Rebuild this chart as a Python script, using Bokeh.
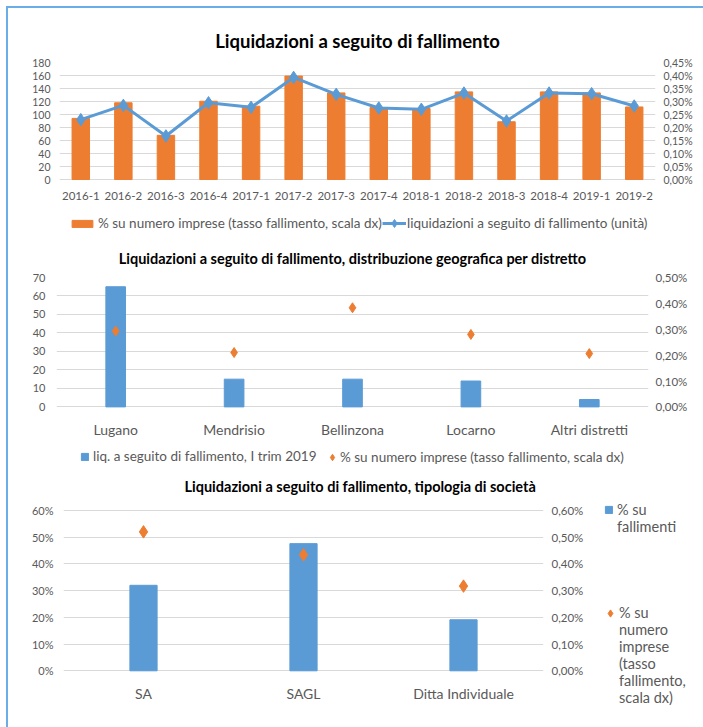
import math
from bokeh.plotting import figure
from bokeh.models import (FactorRange, Range1d, LinearAxis, FixedTicker,
                          CustomJSTickFormatter, Legend, LegendItem, Div)
from bokeh.layouts import row
from bokeh.embed import file_html
from bokeh.resources import INLINE

# ---------------- data ----------------
quarters = ["2016-1", "2016-2", "2016-3", "2016-4", "2017-1", "2017-2", "2017-3",
            "2017-4", "2018-1", "2018-2", "2018-3", "2018-4", "2019-1", "2019-2"]
liquidazioni_unita = [92, 114, 67, 118, 111, 157, 131, 110, 108, 133, 90, 133, 132, 113]
tasso_trimestre_pct = [0.235, 0.295, 0.170, 0.301, 0.282, 0.398, 0.333, 0.277,
                       0.273, 0.337, 0.222, 0.337, 0.333, 0.279]
p1_left_ticks = [0, 20, 40, 60, 80, 100, 120, 140, 160, 180]
p1_right_ticks = [0.0, 0.05, 0.10, 0.15, 0.20, 0.25, 0.30, 0.35, 0.40, 0.45]

districts = ["Lugano", "Mendrisio", "Bellinzona", "Locarno", "Altri distretti"]
liq_trim1_2019 = [65, 15, 15, 14, 4]
tasso_distretto_pct = [0.293, 0.210, 0.383, 0.280, 0.206]
p2_left_ticks = [0, 10, 20, 30, 40, 50, 60, 70]
p2_right_ticks = [0.0, 0.1, 0.2, 0.3, 0.4, 0.5]

tipologie = ["SA", "SAGL", "Ditta Individuale"]
quota_fallimenti_pct = [32.0, 47.6, 19.1]
tasso_tipologia_pct = [0.520, 0.434, 0.317]
p3_left_ticks = [0, 10, 20, 30, 40, 50, 60]
p3_right_ticks = [0.0, 0.1, 0.2, 0.3, 0.4, 0.5, 0.6]

# wrapped legend labels of panel 3 (leading blank lines keep the key on the first line)
p3_key_bar_lines = ["% su", "fallimenti"]
p3_key_pt_lines = ["% su", "numero", "imprese", "(tasso", "fallimento,", "scala dx)"]

# ---------------- style ----------------
FONT = "Lato"
GRAY = "#595959"
ORANGE = "#ED7D31"
BLUE = "#5B9BD5"
GRID = "#D9D9D9"
FRAME = "#6AAEE8"
W = 703
LEG_FS = "13.5px"

pct2 = CustomJSTickFormatter(code="return tick.toFixed(2).replace('.', ',') + '%';")
pct0 = CustomJSTickFormatter(code="return tick.toFixed(0) + '%';")


def style_axis(ax, size, standoff):
    ax.axis_line_color = None
    ax.major_tick_line_color = None
    ax.minor_tick_line_color = None
    ax.major_tick_out = 0
    ax.major_tick_in = 0
    ax.major_label_text_font = FONT
    ax.major_label_text_font_size = size
    ax.major_label_text_color = GRAY
    ax.major_label_standoff = standoff


def make_fig(factors, width, height, left, right, top, bottom, y_range, y2_range,
             title, title_size, title_standoff):
    p = figure(x_range=FactorRange(*factors), y_range=Range1d(*y_range),
               width=width, height=height, min_border_left=left, min_border_right=right,
               min_border_top=top, min_border_bottom=bottom,
               output_backend="svg", toolbar_location=None,
               background_fill_color="white", border_fill_color="white",
               outline_line_color=None, title=title)
    p.extra_y_ranges = {"dx": Range1d(*y2_range)}
    p.xgrid.visible = False
    p.ygrid.grid_line_color = GRID
    p.ygrid.grid_line_width = 1
    p.title.align = "center"
    p.title.text_font = FONT
    p.title.text_font_size = title_size
    p.title.text_font_style = "bold"
    p.title.text_color = "#000000"
    p.title.standoff = title_standoff
    return p


def make_legend(items, loc, gw, gh, size=LEG_FS, **kw):
    return Legend(items=items, location=loc, orientation="horizontal",
                  glyph_width=gw, glyph_height=gh, label_height=16, padding=0, margin=0,
                  border_line_color=None, background_fill_alpha=0,
                  label_text_font=FONT, label_text_font_size=size,
                  label_text_color=GRAY, **kw)


# ---------------- panel 1 ----------------
# frame: 0..180 over 117 px; frame extended down to hold tick labels and legend
p1_ext = 180 - 173 / (117 / 180)
p1 = make_fig(quarters, W, 235, 59, 48, 62, 0, (p1_ext, 180), (p1_ext * 0.0025, 0.45),
              "Liquidazioni a seguito di fallimento", "18.5px", 22)
bars1 = p1.vbar(x=quarters, top=tasso_trimestre_pct, width=0.41, color=ORANGE,
                y_range_name="dx")
line1 = p1.line(x=quarters, y=liquidazioni_unita, line_color=BLUE, line_width=3)
pts1 = p1.scatter(x=quarters, y=liquidazioni_unita, marker="diamond", size=12.5,
                  fill_color=BLUE, line_color=BLUE)
p1.yaxis.ticker = FixedTicker(ticks=p1_left_ticks)
style_axis(p1.yaxis[0], "10.5px", 9)
style_axis(p1.xaxis[0], "11.5px", 12)
p1.xaxis[0].fixed_location = 0
ax1r = LinearAxis(y_range_name="dx", ticker=FixedTicker(ticks=p1_right_ticks),
                  formatter=pct2)
style_axis(ax1r, "10.5px", 8)
p1.add_layout(ax1r, "right")
p1.add_layout(make_legend(
    [LegendItem(label="% su numero imprese (tasso fallimento, scala dx)", renderers=[bars1])],
    (10, 4), 26, 9, label_standoff=3))
p1.add_layout(make_legend(
    [LegendItem(label="liquidazioni a seguito di fallimento (unità)", renderers=[line1, pts1])],
    (323, 2), 24, 20, label_standoff=1))

# ---------------- panel 2 ----------------
p2_ext = 70 - 193 / (129.4 / 70)
p2 = make_fig(districts, W, 235, 56, 55, 42, 0, (p2_ext, 70), (p2_ext * 0.5 / 70, 0.5),
              "Liquidazioni a seguito di fallimento, distribuzione geografica per distretto",
              "14.5px", 21)
bars2 = p2.vbar(x=districts, top=liq_trim1_2019, width=0.166, color=BLUE)
pts2 = p2.scatter(x=districts, y=tasso_distretto_pct, marker="diamond", size=10,
                  fill_color=ORANGE, line_color=ORANGE, y_range_name="dx")
p2.yaxis.ticker = FixedTicker(ticks=p2_left_ticks)
style_axis(p2.yaxis[0], "11px", 11)
style_axis(p2.xaxis[0], "14px", 14)
p2.xaxis[0].fixed_location = 0
ax2r = LinearAxis(y_range_name="dx", ticker=FixedTicker(ticks=p2_right_ticks),
                  formatter=pct2)
style_axis(ax2r, "11.5px", 7)
p2.add_layout(ax2r, "right")
p2.add_layout(make_legend(
    [LegendItem(label="liq. a seguito di fallimento, I trim 2019", renderers=[bars2])],
    (24, 6), 9, 9, label_standoff=4))
p2.add_layout(make_legend(
    [LegendItem(label="% su numero imprese (tasso fallimento, scala dx)", renderers=[pts2])],
    (268, 5), 16, 16, label_standoff=0))

# ---------------- panel 3 ----------------
p3_top = 60 + 14 / (160.3 / 60)
p3_bot = -56.7 / (160.3 / 60)
p3 = make_fig(tipologie, 588, 257, 63, 45, 26, 0, (p3_bot, p3_top),
              (p3_bot / 100, p3_top / 100),
              "Liquidazioni a seguito di fallimento, tipologia di società", "14.5px", 3)
p3.title.align = "left"
p3.title.offset = 121
bars3 = p3.vbar(x=tipologie, top=quota_fallimenti_pct, width=0.17, color=BLUE)
pts3 = p3.scatter(x=tipologie, y=tasso_tipologia_pct, marker="diamond", size=12.5,
                  fill_color=ORANGE, line_color=ORANGE, y_range_name="dx")
p3.yaxis.ticker = FixedTicker(ticks=p3_left_ticks)
p3.yaxis.formatter = pct0
style_axis(p3.yaxis[0], "11px", 10)
style_axis(p3.xaxis[0], "14px", 14)
p3.xaxis[0].fixed_location = 0
ax3r = LinearAxis(y_range_name="dx", ticker=FixedTicker(ticks=p3_right_ticks),
                  formatter=pct2)
style_axis(ax3r, "11.5px", 8)
p3.add_layout(ax3r, "right")

# legend box of panel 3 (sits to the right of the chart); keys only, no data drawn
pleg = figure(width=W - 588, height=257, x_range=Range1d(0, 1), y_range=Range1d(0, 1),
              x_axis_type=None, y_axis_type=None, min_border=0,
              output_backend="svg", toolbar_location=None,
              background_fill_color="white", border_fill_color="white",
              outline_line_color=None)
key_bar = pleg.vbar(x=[math.nan], top=[math.nan], width=0.17, color=BLUE)
key_pt = pleg.scatter(x=[math.nan], y=[math.nan], marker="diamond", size=12.5,
                      fill_color=ORANGE, line_color=ORANGE)


def wrapped(lines):
    return "\n" * (len(lines) - 1) + "\n".join(lines)


pleg.add_layout(make_legend(
    [LegendItem(label=wrapped(p3_key_bar_lines), renderers=[key_bar])],
    (16, 192), 9, 9, size="14.5px", label_standoff=4))
pleg.add_layout(make_legend(
    [LegendItem(label=wrapped(p3_key_pt_lines), renderers=[key_pt])],
    (13, 21), 18, 18, size="14.5px", label_standoff=0))

frame_div = Div(text=('<div style="position:fixed;left:6px;top:6px;width:700px;'
                      'height:724px;border-left:2px solid ' + FRAME + ';border-top:2px solid '
                      + FRAME + ';pointer-events:none;"></div>'), width=0, height=0)

open("out.html", "w").write(file_html([p1, p2, row(p3, pleg), frame_div], INLINE))
